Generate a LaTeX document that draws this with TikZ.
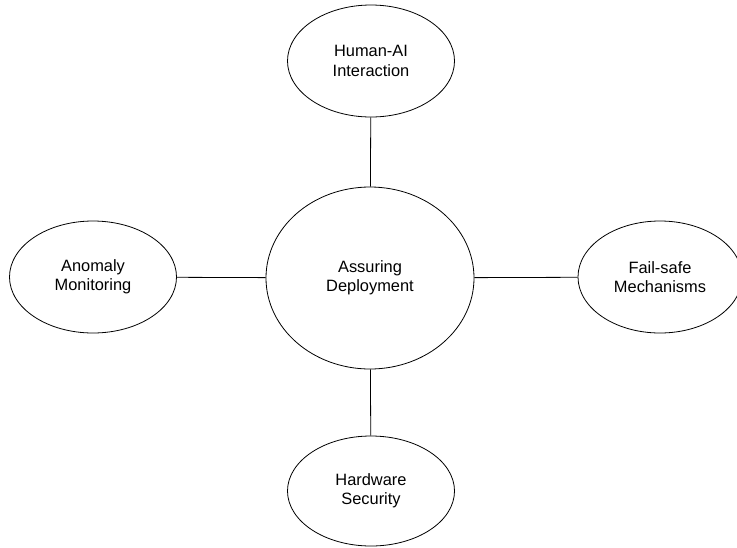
\documentclass[tikz,border=0pt]{standalone}
\usepackage{fontspec}
\setmainfont{Liberation Sans}
\usetikzlibrary{shapes.geometric}

\begin{document}
\begin{tikzpicture}[x=1pt,y=-1pt,
    topic/.style={draw, ellipse, line width=0.8pt, inner sep=0pt,
        minimum width=167pt, minimum height=112pt, align=center,
        font=\fontsize{16.4}{19.5}\selectfont}]
    \useasboundingbox (0,0) rectangle (737,547);
    \node[topic, minimum width=208pt, minimum height=182pt] (D) at (370,278) {Assuring\\Deployment};
    \node[topic] (H) at (371,61) {Human-AI\\Interaction};
    \node[topic] (A) at (93,277) {Anomaly\\Monitoring};
    \node[topic, minimum width=164pt] (F) at (660,277) {Fail-safe\\Mechanisms};
    \node[topic, minimum height=110pt] (S) at (371,491) {Hardware\\Security};
    \draw[line width=0.8pt] (D) -- (H);
    \draw[line width=0.8pt] (D) -- (A);
    \draw[line width=0.8pt] (D) -- (F);
    \draw[line width=0.8pt] (D) -- (S);
\end{tikzpicture}
\end{document}
